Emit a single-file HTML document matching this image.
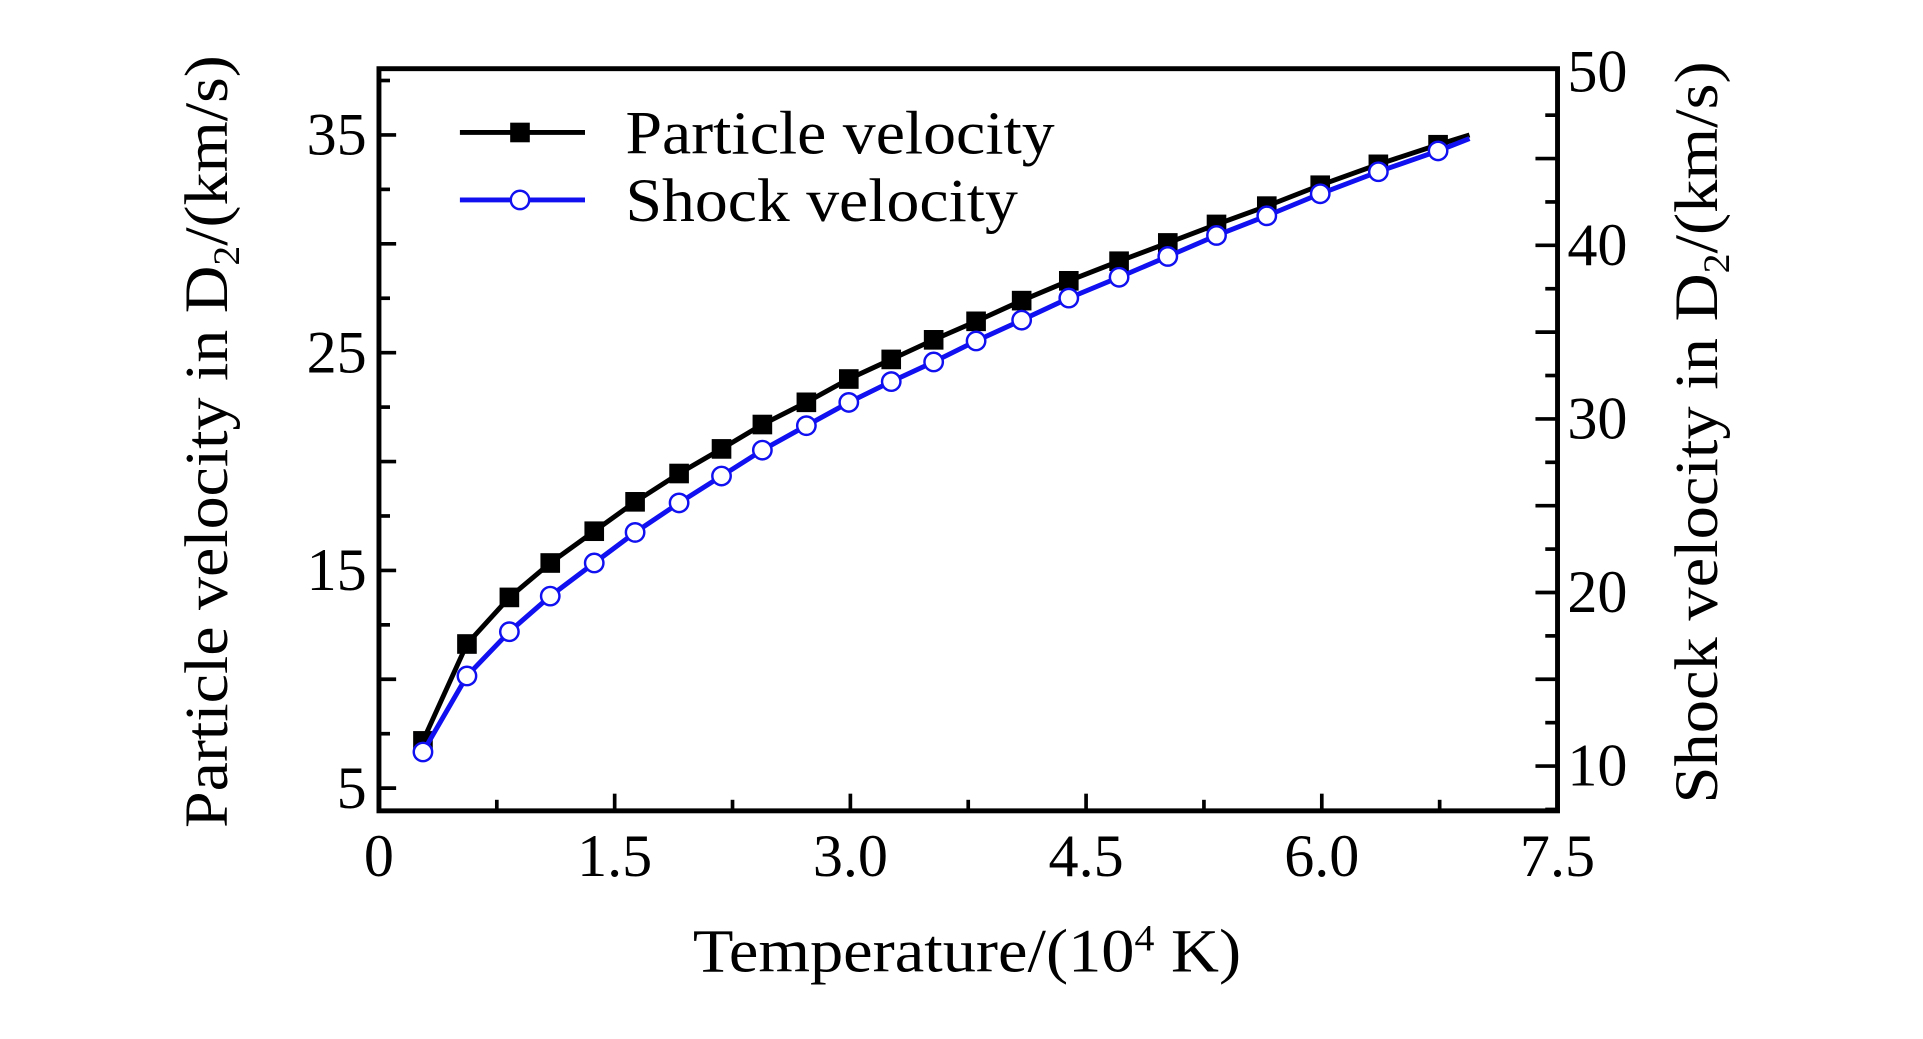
<!DOCTYPE html>
<html><head><meta charset="utf-8"><style>
html,body{margin:0;padding:0;background:#fff;}
svg{display:block;}
text{font-family:"Liberation Serif",serif;fill:#000;}
</style></head><body>
<svg id="chart" width="1923" height="1039" viewBox="0 0 1568 847" preserveAspectRatio="none" xmlns="http://www.w3.org/2000/svg">
<g id="g"></g>
</svg>
<script>
const tempX = [0.28,0.56,0.83,1.09,1.37,1.63,1.91,2.18,2.44,2.72,2.99,3.26,3.53,3.8,4.09,4.39,4.71,5.02,5.33,5.65,5.99,6.36,6.74];
const particleV = [7.17,11.62,13.76,15.34,16.8,18.15,19.45,20.58,21.7,22.72,23.79,24.69,25.59,26.44,27.39,28.3,29.2,30.04,30.89,31.73,32.69,33.65,34.55];
const shockV = [10.81,15.19,17.74,19.79,21.7,23.46,25.16,26.71,28.2,29.61,30.95,32.15,33.28,34.49,35.69,36.96,38.16,39.36,40.57,41.7,42.97,44.24,45.44];
const lineEndX = [6.94];
const particleEnd = [35.0];
const shockEnd = [46.15];
const xTicks = ["0","1.5","3.0","4.5","6.0","7.5"];
const yLeftTicks = ["5","15","25","35"];
const yRightTicks = ["10","20","30","40","50"];

const L=309,R=1270,T=56,B=661;
const sx=v=>L+v*128.13;
const syL=v=>110+(35-v)*17.75;
const syR=v=>58.5+(50-v)*14.15;
const NS="http://www.w3.org/2000/svg";
const g=document.getElementById('g');
function mk(tag,attrs,txt){const e=document.createElementNS(NS,tag);for(const k in attrs)e.setAttribute(k,attrs[k]);if(txt!==undefined)e.textContent=txt;g.appendChild(e);return e;}

for(let i=0;i<=10;i++){const v=i*0.75;const x=sx(v);const len=i%2===0?14:9;
 const t=mk('line',{x1:x,y1:B,x2:x,y2:B-len,stroke:'#000','stroke-width':3});
 
 }
for(let v=2.5;v<=37.5;v+=2.5){const y=syL(v);if(y<T||y>B)continue;const len=(v%5===0)?14:9;
 const t=mk('line',{x1:L,y1:y,x2:L+len,y2:y,stroke:'#000','stroke-width':3});
 
 }
for(let v=7.5;v<=50;v+=2.5){const y=syR(v);if(y<T+3||y>B)continue;const len=(v%5===0)?18:10;
 const t=mk('line',{x1:R,y1:y,x2:R-len,y2:y,stroke:'#000','stroke-width':3});
 
 }
const fr=mk('rect',{x:L,y:T,width:R-L,height:B-T,fill:'none',stroke:'#000','stroke-width':4});



xTicks.forEach(s=>{const t=mk('text',{x:sx(parseFloat(s)),y:714,'font-size':49,'text-anchor':'middle'},s);
 
 });
yLeftTicks.forEach(s=>{const t=mk('text',{x:299,y:syL(parseFloat(s))+16,'font-size':49,'text-anchor':'end'},s);
 
 });
yRightTicks.forEach(s=>{const t=mk('text',{x:1278,y:syR(parseFloat(s))+16,'font-size':49,'text-anchor':'start'},s);
 
 });

function series(xs,ys,ex,ey,sy,color,kind,name){
 const pts=xs.map((x,i)=>sx(x)+','+sy(ys[i]));pts.push(sx(ex)+','+sy(ey));
 const pl=mk('polyline',{points:pts.join(' '),fill:'none',stroke:color,'stroke-width':4,'stroke-linejoin':'round'});
 
 
 xs.forEach((x,i)=>{let m;
  if(kind==='sq'){m=mk('rect',{x:sx(x)-8,y:sy(ys[i])-8,width:16,height:16,fill:'#000'});}
  else{m=mk('circle',{cx:sx(x),cy:sy(ys[i]),r:7.5,fill:'#fff',stroke:color,'stroke-width':2});}
  
  });
}
series(tempX,particleV,lineEndX[0],particleEnd[0],syL,'#000','sq','particle-velocity');
series(tempX,shockV,lineEndX[0],shockEnd[0],syR,'#1010f0','ci','shock-velocity');

let e;
e=mk('line',{x1:375,y1:108,x2:477,y2:108,stroke:'#000','stroke-width':4});


e=mk('rect',{x:416,y:100,width:16,height:16,fill:'#000'});


e=mk('text',{x:510,y:125,'font-size':50,textLength:350,lengthAdjust:'spacingAndGlyphs'},'Particle velocity');


e=mk('line',{x1:375,y1:163,x2:477,y2:163,stroke:'#1010f0','stroke-width':4});


e=mk('circle',{cx:424,cy:163,r:7.5,fill:'#fff',stroke:'#1010f0','stroke-width':2});


e=mk('text',{x:510,y:180,'font-size':50,textLength:320,lengthAdjust:'spacingAndGlyphs'},'Shock velocity');



e=mk('text',{x:565,y:792,'font-size':50,textLength:447,lengthAdjust:'spacingAndGlyphs'});
e.innerHTML='Temperature/(10<tspan font-size="30" dy="-17">4</tspan><tspan dy="17"> K)</tspan>';


e=mk('text',{x:0,y:0,'font-size':50,textLength:630,lengthAdjust:'spacingAndGlyphs',transform:'translate(185,675) rotate(-90)'});
e.innerHTML='Particle velocity in D<tspan font-size="30" dy="10">2</tspan><tspan dy="-10">/(km/s)</tspan>';


e=mk('text',{x:0,y:0,'font-size':50,textLength:605,lengthAdjust:'spacingAndGlyphs',transform:'translate(1400,655) rotate(-90)'});
e.innerHTML='Shock velocity in D<tspan font-size="30" dy="10">2</tspan><tspan dy="-10">/(km/s)</tspan>';


</script>
</body></html>
